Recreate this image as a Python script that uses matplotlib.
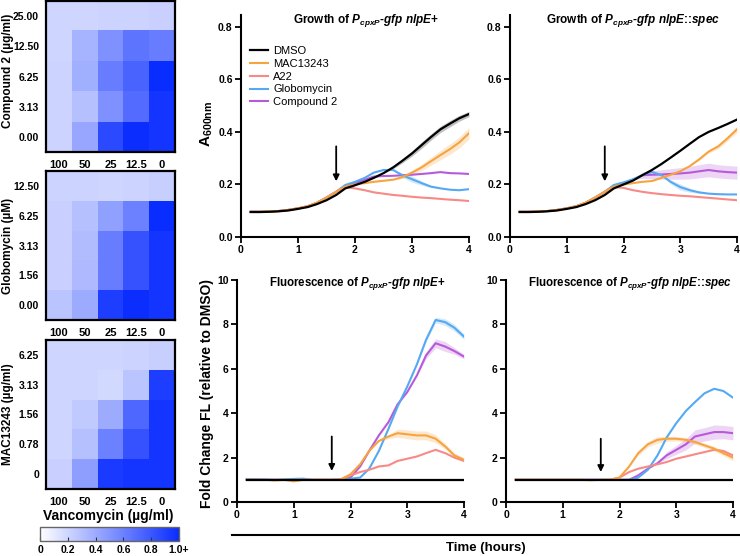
import numpy as np
import matplotlib
matplotlib.use('Agg')
import matplotlib.pyplot as plt
from matplotlib.colors import LinearSegmentedColormap

plt.rcParams['font.family'] = ['Liberation Sans', 'DejaVu Sans']
plt.rcParams['font.weight'] = 'bold'
plt.rcParams['mathtext.fontset'] = 'custom'
plt.rcParams['mathtext.rm'] = 'Liberation Sans:bold'
plt.rcParams['mathtext.it'] = 'Liberation Sans:bold:italic'
plt.rcParams['mathtext.bf'] = 'Liberation Sans:bold'

# ---- checkerboard data (rows top -> bottom, columns = vancomycin) ----
vanco_labels = ['100', '50', '25', '12.5', '0']
cmp2_labels = ['25.00', '12.50', '6.25', '3.13', '0.00']
glob_labels = ['12.50', '6.25', '3.13', '1.56', '0.00']
mac_labels = ['6.25', '3.13', '1.56', '0.78', '0']

cmp2_grid = [[0.20, 0.20, 0.21, 0.21, 0.22],
             [0.20, 0.36, 0.52, 0.66, 0.62],
             [0.21, 0.38, 0.62, 0.74, 1.00],
             [0.21, 0.30, 0.52, 0.70, 0.96],
             [0.21, 0.42, 0.86, 0.99, 0.96]]
glob_grid = [[0.21, 0.21, 0.20, 0.21, 0.23],
             [0.22, 0.30, 0.45, 0.60, 1.00],
             [0.22, 0.32, 0.62, 0.82, 0.96],
             [0.22, 0.33, 0.62, 0.82, 0.96],
             [0.28, 0.40, 0.92, 0.99, 0.96]]
mac_grid = [[0.20, 0.20, 0.20, 0.21, 0.23],
            [0.20, 0.20, 0.18, 0.28, 0.92],
            [0.20, 0.25, 0.40, 0.72, 0.96],
            [0.20, 0.30, 0.60, 0.82, 0.96],
            [0.22, 0.46, 0.93, 0.96, 0.96]]

# ---- time course data ----
time = [0.17, 0.33, 0.5, 0.67, 0.83, 1.0, 1.17, 1.33, 1.5, 1.67, 1.83, 2.0,
        2.17, 2.33, 2.5, 2.67, 2.83, 3.0, 3.17, 3.33, 3.5, 3.67, 3.83, 4.0]
series = ['DMSO', 'MAC13243', 'A22', 'Globomycin', 'Compound 2']
colors = ['black', '#f7a440', '#f88a86', '#55a9f2', '#b75ad9']

# growth, nlpE+
gp_dmso = [0.095, 0.095, 0.096, 0.098, 0.101, 0.107, 0.114, 0.125, 0.140, 0.160, 0.185, 0.197,
           0.210, 0.225, 0.243, 0.265, 0.290, 0.318, 0.350, 0.380, 0.410, 0.432, 0.452, 0.468]
gp_mac = [0.096, 0.096, 0.097, 0.099, 0.103, 0.109, 0.117, 0.130, 0.150, 0.172, 0.192, 0.200,
          0.205, 0.210, 0.214, 0.218, 0.228, 0.245, 0.265, 0.288, 0.312, 0.335, 0.360, 0.395]
gp_a22 = [0.096, 0.096, 0.097, 0.099, 0.103, 0.109, 0.117, 0.130, 0.150, 0.172, 0.190, 0.185,
          0.178, 0.170, 0.165, 0.160, 0.157, 0.153, 0.150, 0.148, 0.145, 0.142, 0.140, 0.137]
gp_glob = [0.096, 0.096, 0.097, 0.099, 0.103, 0.109, 0.117, 0.130, 0.150, 0.172, 0.198, 0.210,
           0.225, 0.245, 0.255, 0.255, 0.235, 0.220, 0.205, 0.192, 0.185, 0.180, 0.178, 0.182]
gp_cmp2 = [0.096, 0.096, 0.097, 0.099, 0.103, 0.109, 0.117, 0.130, 0.150, 0.172, 0.195, 0.205,
           0.218, 0.230, 0.232, 0.233, 0.235, 0.237, 0.240, 0.243, 0.247, 0.243, 0.242, 0.240]

# growth, nlpE::spec
gs_dmso = [0.095, 0.095, 0.096, 0.098, 0.101, 0.107, 0.114, 0.125, 0.140, 0.160, 0.185, 0.200,
           0.215, 0.235, 0.255, 0.278, 0.302, 0.328, 0.355, 0.380, 0.400, 0.415, 0.430, 0.447]
gs_mac = [0.096, 0.096, 0.097, 0.099, 0.103, 0.109, 0.117, 0.130, 0.150, 0.172, 0.192, 0.200,
          0.205, 0.210, 0.213, 0.225, 0.237, 0.250, 0.270, 0.295, 0.325, 0.345, 0.375, 0.410]
gs_a22 = [0.096, 0.096, 0.097, 0.099, 0.103, 0.109, 0.117, 0.130, 0.150, 0.172, 0.190, 0.187,
          0.178, 0.172, 0.167, 0.163, 0.160, 0.157, 0.155, 0.152, 0.149, 0.146, 0.143, 0.140]
gs_glob = [0.096, 0.096, 0.097, 0.099, 0.103, 0.109, 0.117, 0.130, 0.150, 0.172, 0.198, 0.208,
           0.220, 0.235, 0.248, 0.235, 0.210, 0.190, 0.178, 0.170, 0.165, 0.163, 0.162, 0.162]
gs_cmp2 = [0.096, 0.096, 0.097, 0.099, 0.103, 0.109, 0.117, 0.130, 0.150, 0.172, 0.195, 0.205,
           0.218, 0.235, 0.237, 0.238, 0.240, 0.242, 0.245, 0.250, 0.255, 0.250, 0.247, 0.245]

# fluorescence fold change, nlpE+
fp_dmso = [1.0] * 24
fp_mac = [1.0, 1.0, 1.0, 0.97, 1.0, 0.93, 1.0, 1.0, 1.0, 1.0, 1.02, 1.25,
          1.7, 2.3, 2.75, 2.95, 3.1, 3.05, 3.0, 3.0, 2.85, 2.5, 2.1, 1.9]
fp_a22 = [1.0, 1.0, 1.0, 1.0, 1.0, 1.0, 1.0, 1.0, 1.0, 1.0, 1.02, 1.2,
          1.35, 1.45, 1.6, 1.65, 1.85, 1.95, 2.05, 2.2, 2.35, 2.2, 2.0, 1.85]
fp_glob = [1.03, 1.03, 1.02, 1.0, 1.02, 1.04, 1.05, 1.0, 1.0, 1.0, 1.0, 1.05,
           1.1, 1.5, 2.3, 3.3, 4.3, 5.2, 6.2, 7.3, 8.2, 8.1, 7.85, 7.45]
fp_cmp2 = [1.0, 1.0, 1.0, 1.0, 1.0, 1.0, 1.0, 1.0, 1.0, 1.0, 1.02, 1.1,
           1.6, 2.3, 3.0, 3.6, 4.4, 4.95, 5.7, 6.6, 7.15, 7.0, 6.8, 6.55]

# fluorescence fold change, nlpE::spec
fs_dmso = [1.0] * 24
fs_mac = [1.0, 1.0, 1.0, 1.0, 1.0, 1.0, 1.0, 1.0, 0.98, 1.0, 1.0, 1.1,
          1.6, 2.2, 2.6, 2.8, 2.85, 2.85, 2.8, 2.7, 2.55, 2.4, 2.2, 2.0]
fs_a22 = [1.0, 1.0, 1.0, 1.0, 1.0, 1.0, 1.0, 1.0, 1.0, 1.0, 1.0, 1.1,
          1.35, 1.5, 1.6, 1.7, 1.8, 1.95, 2.05, 2.15, 2.25, 2.35, 2.3, 2.1]
fs_glob = [1.0, 1.0, 1.0, 1.0, 1.0, 1.0, 1.0, 1.0, 1.0, 1.0, 1.0, 1.0,
           1.0, 1.1, 1.45, 2.1, 2.9, 3.55, 4.1, 4.5, 4.9, 5.1, 5.0, 4.7]
fs_cmp2 = [1.0, 1.0, 1.0, 1.0, 1.0, 1.0, 1.0, 1.0, 1.0, 1.0, 1.0, 1.0,
           1.0, 1.2, 1.5, 1.75, 2.1, 2.35, 2.6, 2.95, 3.05, 3.15, 3.15, 3.1]

# error bands (SD) for the visibly shaded series
gp_dmso_err = [0] * 15 + [0.005, 0.008, 0.010, 0.012, 0.012, 0.012, 0.012, 0.011, 0.010]
gp_mac_err = [0] * 16 + [0.006, 0.009, 0.012, 0.015, 0.018, 0.020, 0.021, 0.022]
gp_glob_err = [0] * 16 + [0.008, 0.012, 0.008, 0.004, 0, 0, 0, 0]
gs_mac_err = [0] * 19 + [0.004, 0.006, 0.008, 0.010, 0.012]
gs_glob_err = [0] * 16 + [0.008, 0.012, 0.008, 0.004, 0, 0, 0, 0]
gs_cmp2_err = [0] * 13 + [0.012, 0.015, 0.018, 0.020, 0.022, 0.024, 0.025, 0.026, 0.025, 0.025, 0.025]
fp_mac_err = [0] * 15 + [0.10, 0.18, 0.2, 0.2, 0.2, 0.18, 0.12, 0.1, 0.1]
fp_glob_err = [0] * 19 + [0.1, 0.12, 0.15, 0.15, 0.12]
fp_cmp2_err = [0] * 19 + [0.15, 0.2, 0.22, 0.15, 0.1]
fs_mac_err = [0] * 13 + [0.1, 0.12, 0.15, 0.12, 0.1, 0.1, 0.1, 0.1, 0.1, 0.12, 0.15]
fs_cmp2_err = [0] * 16 + [0.15, 0.2, 0.25, 0.3, 0.3, 0.32, 0.3, 0.3]

W, H = 740, 556
fig = plt.figure(figsize=(W / 100, H / 100), dpi=100)


def px_axes(left, top, right, bottom):
    return fig.add_axes([left / W, 1 - bottom / H, (right - left) / W, (bottom - top) / H])


blue_cmap = LinearSegmentedColormap.from_list('wb', ['#ffffff', '#0a2dff'])


def draw_heat(ax, grid, ylabels, ylabel, ymid):
    ax.imshow(np.array(grid), cmap=blue_cmap, vmin=0, vmax=1, aspect='auto',
              interpolation='nearest')
    ax.set_xticks(range(len(vanco_labels)))
    ax.set_xticklabels(vanco_labels, fontsize=8, fontweight='bold')
    ax.set_yticks(range(len(ylabels)))
    ax.set_yticklabels(ylabels, fontsize=7.5, fontweight='bold')
    ax.tick_params(axis='y', length=0, pad=5)
    ax.tick_params(axis='x', length=0, pad=6)
    fig.text(8 / W, 1 - ymid / H, ylabel, rotation=90, ha='center', va='center',
             fontsize=8.5)
    for s in ax.spines.values():
        s.set_linewidth(1.6)


h1 = px_axes(46, 1, 175, 152)
draw_heat(h1, cmp2_grid, cmp2_labels, 'Compound 2 (µg/ml)', 71)
h2 = px_axes(46, 171, 175, 320)
draw_heat(h2, glob_grid, glob_labels, 'Globomycin (µM)', 246)
h3 = px_axes(46, 340, 175, 489)
draw_heat(h3, mac_grid, mac_labels, 'MAC13243 (µg/ml)', 414)
fig.text(108 / W, 1 - 516 / H, 'Vancomycin (µg/ml)', ha='center', va='center', fontsize=10)

cax = px_axes(40, 527, 179, 541)
sm = plt.cm.ScalarMappable(cmap=blue_cmap, norm=plt.Normalize(0, 1))
cb = fig.colorbar(sm, cax=cax, orientation='horizontal')
cb.set_ticks([0, 0.2, 0.4, 0.6, 0.8, 1.0])
cb.set_ticklabels(['0', '0.2', '0.4', '0.6', '0.8', '1.0+'])
cax.tick_params(direction='in', length=3, labelsize=7.5, pad=3, color='#333333')
cb.outline.set_edgecolor('#666666')
cb.outline.set_linewidth(1)


def draw_lines(ax, data, errs, ylim, yticks, yfmt, arrow):
    order = [4, 3, 2, 1, 0]
    for i in order:
        y = np.array(data[i])
        if errs[i] is not None:
            e = np.array(errs[i])
            ax.fill_between(time, y - e, y + e, color=colors[i], alpha=0.25, lw=0)
        ax.plot(time, y, color=colors[i], lw=1.5 if i else 1.6, label=series[i])
    ax.set_xlim(0, 4)
    ax.set_ylim(*ylim)
    ax.set_xticks([0, 1, 2, 3, 4])
    ax.set_yticks(yticks)
    ax.set_yticklabels([yfmt.format(v) for v in yticks])
    ax.spines['top'].set_visible(False)
    ax.spines['right'].set_visible(False)
    ax.spines['left'].set_linewidth(1.5)
    ax.spines['bottom'].set_linewidth(1.5)
    ax.tick_params(labelsize=7.5, width=1.3, length=4, pad=2)
    for t in ax.get_xticklabels() + ax.get_yticklabels():
        t.set_fontweight('bold')
    ax.annotate('', xy=(1.67, arrow[1]), xytext=(1.67, arrow[0]),
                arrowprops=dict(arrowstyle='-|>', color='black', lw=1.3,
                                mutation_scale=9, shrinkA=0, shrinkB=0))


g_ticks = [0.0, 0.2, 0.4, 0.6, 0.8]
f_ticks = [0, 2, 4, 6, 8, 10]

ax1 = px_axes(241, 15, 469, 237)
draw_lines(ax1, [gp_dmso, gp_mac, gp_a22, gp_glob, gp_cmp2],
           [gp_dmso_err, gp_mac_err, None, gp_glob_err, None],
           (0, 0.845), g_ticks, '{:.1f}', (0.345, 0.212))
ax2 = px_axes(510, 15, 737, 237)
draw_lines(ax2, [gs_dmso, gs_mac, gs_a22, gs_glob, gs_cmp2],
           [None, gs_mac_err, None, gs_glob_err, gs_cmp2_err],
           (0, 0.845), g_ticks, '{:.1f}', (0.345, 0.212))
ax3 = px_axes(237, 280, 464, 502)
draw_lines(ax3, [fp_dmso, fp_mac, fp_a22, fp_glob, fp_cmp2],
           [None, fp_mac_err, None, fp_glob_err, fp_cmp2_err],
           (0, 10), f_ticks, '{:d}', (2.95, 1.4))
ax4 = px_axes(506, 280, 733, 502)
draw_lines(ax4, [fs_dmso, fs_mac, fs_a22, fs_glob, fs_cmp2],
           [None, fs_mac_err, None, None, fs_cmp2_err],
           (0, 10), f_ticks, '{:d}', (2.85, 1.35))

handles, labels = ax1.get_legend_handles_labels()
order = [labels.index(s) for s in series]
ax1.legend([handles[i] for i in order], series, loc='upper left',
           bbox_to_anchor=(0.02, 0.88), frameon=False, handlelength=1.6,
           handletextpad=0.5, labelspacing=0.25, borderaxespad=0,
           prop={'size': 8, 'weight': 'normal'})

ax1.text(0.55, 0.975, r'Growth of $\mathit{P_{cpxP}}$-$\mathit{gfp}$ $\mathit{nlpE}$+',
         transform=ax1.transAxes, ha='center', va='center', fontsize=8.5)
ax2.text(0.54, 0.975, r'Growth of $\mathit{P_{cpxP}}$-$\mathit{gfp}$ $\mathit{nlpE}$::$\mathit{spec}$',
         transform=ax2.transAxes, ha='center', va='center', fontsize=8.5)
ax3.text(0.53, 0.985, r'Fluorescence of $\mathit{P_{cpxP}}$-$\mathit{gfp}$ $\mathit{nlpE}$+',
         transform=ax3.transAxes, ha='center', va='center', fontsize=8.3)
ax4.text(0.545, 0.985, r'Fluorescence of $\mathit{P_{cpxP}}$-$\mathit{gfp}$ $\mathit{nlpE}$::$\mathit{spec}$',
         transform=ax4.transAxes, ha='center', va='center', fontsize=8.3)

fig.text(207 / W, 1 - 124 / H, r'$\mathrm{A}_{\mathrm{600nm}}$', rotation=90,
         ha='center', va='center', fontsize=11)
fig.text(207 / W, 1 - 393 / H, 'Fold Change FL (relative to DMSO)', rotation=90,
         ha='center', va='center', fontsize=10)

fig.add_artist(plt.Line2D([232 / W, 1.0], [1 - 535 / H, 1 - 535 / H], color='black', lw=1.5))
fig.text(486 / W, 1 - 548 / H, 'Time (hours)', ha='center', va='center', fontsize=9.5)

fig.savefig('out.png', dpi=100)
